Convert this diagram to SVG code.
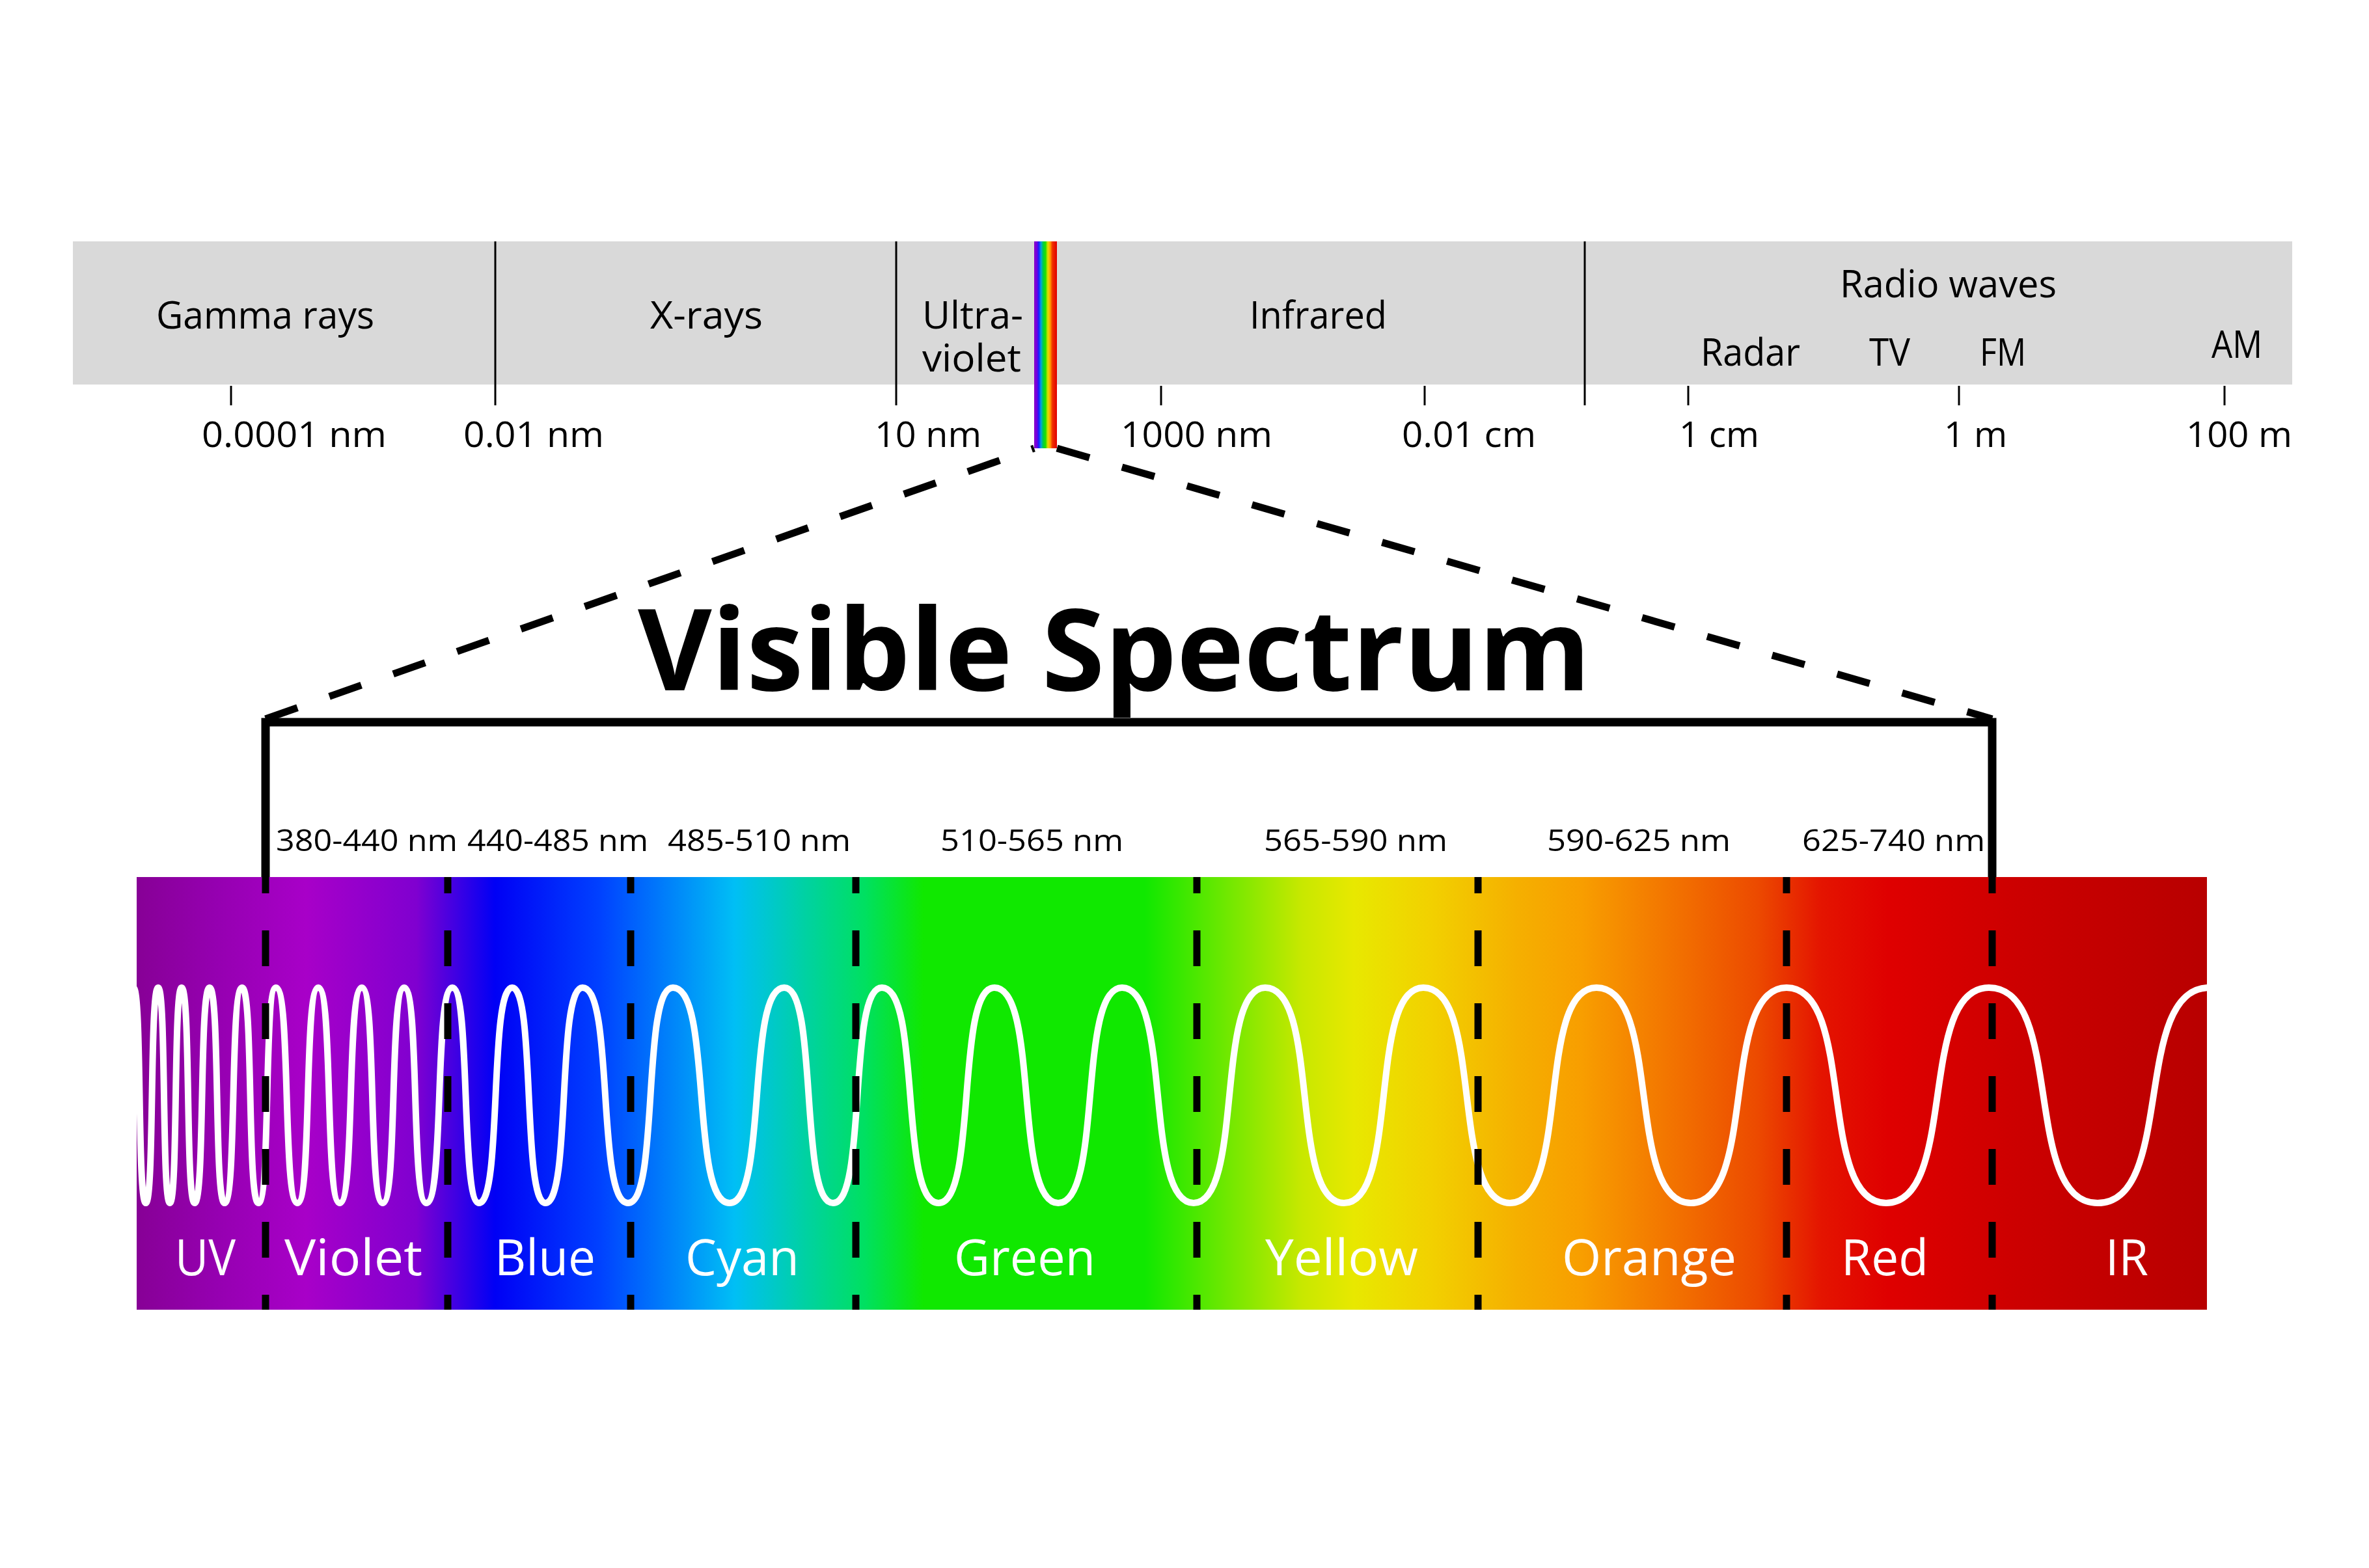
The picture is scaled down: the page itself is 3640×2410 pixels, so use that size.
<svg xmlns="http://www.w3.org/2000/svg" width="3640" height="2410" viewBox="0 0 3640 2410">
<style>
.lbl{font-family:"Open Sans","Noto Sans","Liberation Sans",sans-serif;fill:#000;}
.top{font-size:58px;}
.tick{font-size:55px;}
.rng{font-size:46px;}
.col{font-size:77px;fill:#fff;}
.title{font-size:174px;font-weight:bold;}
.thin{stroke:#000;stroke-width:3;fill:none;}
.vdash{stroke:#000;stroke-width:11;stroke-dasharray:55 57;stroke-dashoffset:30;fill:none;}
.ddash{stroke:#000;stroke-width:11;stroke-dasharray:52 52;fill:none;}
</style>
<defs>
<linearGradient id="spec" gradientUnits="userSpaceOnUse" x1="210" y1="0" x2="3391" y2="0">
<stop offset="0" stop-color="#870096"/>
<stop offset="0.0377" stop-color="#9500b0"/>
<stop offset="0.0817" stop-color="#a800c8"/>
<stop offset="0.135" stop-color="#8000d0"/>
<stop offset="0.173" stop-color="#0000f5"/>
<stop offset="0.223" stop-color="#0040ff"/>
<stop offset="0.289" stop-color="#00bff5"/>
<stop offset="0.324" stop-color="#00d2a0"/>
<stop offset="0.352" stop-color="#00e060"/>
<stop offset="0.380" stop-color="#10e800"/>
<stop offset="0.487" stop-color="#10e800"/>
<stop offset="0.525" stop-color="#6ce800"/>
<stop offset="0.563" stop-color="#c8e800"/>
<stop offset="0.588" stop-color="#e8e800"/>
<stop offset="0.626" stop-color="#f2d000"/>
<stop offset="0.666" stop-color="#f5b000"/>
<stop offset="0.698" stop-color="#f89e00"/>
<stop offset="0.745" stop-color="#f27000"/>
<stop offset="0.783" stop-color="#ec4a00"/>
<stop offset="0.814" stop-color="#e41400"/>
<stop offset="0.846" stop-color="#df0000"/>
<stop offset="0.909" stop-color="#cc0000"/>
<stop offset="1" stop-color="#b80000"/>
</linearGradient>
<linearGradient id="stripe" gradientUnits="userSpaceOnUse" x1="1589" y1="0" x2="1624" y2="0">
<stop offset="0" stop-color="#8a00c8"/>
<stop offset="0.12" stop-color="#7000e0"/>
<stop offset="0.2" stop-color="#1a1aff"/>
<stop offset="0.3" stop-color="#00a0e0"/>
<stop offset="0.4" stop-color="#00d040"/>
<stop offset="0.5" stop-color="#20e000"/>
<stop offset="0.6" stop-color="#e0e000"/>
<stop offset="0.7" stop-color="#ffa000"/>
<stop offset="0.8" stop-color="#f03000"/>
<stop offset="1" stop-color="#e00000"/>
</linearGradient>
<clipPath id="specclip"><rect x="210" y="1348" width="3181" height="665"/></clipPath>
</defs>
<rect x="0" y="0" width="3640" height="2410" fill="#fff"/>

<g id="em-bar">
<rect x="112" y="371" width="3410" height="220" fill="#d9d9d9"/>
<line class="thin" x1="761" y1="371" x2="761" y2="623"/>
<line class="thin" x1="1377" y1="371" x2="1377" y2="623"/>
<line class="thin" x1="2435" y1="371" x2="2435" y2="623"/>
<rect x="1589" y="371" width="35" height="318" fill="url(#stripe)"/>
</g>

<g id="band-labels" class="lbl top">
<text x="240" y="505" textLength="335" lengthAdjust="spacingAndGlyphs">Gamma rays</text>
<text x="999" y="505" textLength="173" lengthAdjust="spacingAndGlyphs">X-rays</text>
<text x="1417" y="505" textLength="155" lengthAdjust="spacingAndGlyphs">Ultra-</text>
<text x="1417" y="571" textLength="152" lengthAdjust="spacingAndGlyphs">violet</text>
<text x="1920" y="505" textLength="211" lengthAdjust="spacingAndGlyphs">Infrared</text>
<text x="2827" y="457" textLength="333" lengthAdjust="spacingAndGlyphs">Radio waves</text>
<text x="2613" y="562" textLength="153" lengthAdjust="spacingAndGlyphs">Radar</text>
<text x="2872" y="562" textLength="63" lengthAdjust="spacingAndGlyphs">TV</text>
<text x="3042" y="562" textLength="71" lengthAdjust="spacingAndGlyphs">FM</text>
<text x="3398" y="550" textLength="78" lengthAdjust="spacingAndGlyphs">AM</text>
</g>

<g id="ticks">
<line class="thin" x1="355" y1="593" x2="355" y2="623"/>
<line class="thin" x1="1784" y1="593" x2="1784" y2="623"/>
<line class="thin" x1="2189" y1="593" x2="2189" y2="623"/>
<line class="thin" x1="2594" y1="593" x2="2594" y2="623"/>
<line class="thin" x1="3010" y1="593" x2="3010" y2="623"/>
<line class="thin" x1="3418" y1="593" x2="3418" y2="623"/>
</g>

<g id="tick-labels" class="lbl tick">
<text x="310" y="687" textLength="284" lengthAdjust="spacingAndGlyphs">0.0001 nm</text>
<text x="712" y="687" textLength="216" lengthAdjust="spacingAndGlyphs">0.01 nm</text>
<text x="1344" y="687" textLength="164" lengthAdjust="spacingAndGlyphs">10 nm</text>
<text x="1722" y="687" textLength="233" lengthAdjust="spacingAndGlyphs">1000 nm</text>
<text x="2154" y="687" textLength="206" lengthAdjust="spacingAndGlyphs">0.01 cm</text>
<text x="2580" y="687" textLength="123" lengthAdjust="spacingAndGlyphs">1 cm</text>
<text x="2987" y="687" textLength="97" lengthAdjust="spacingAndGlyphs">1 m</text>
<text x="3359" y="687" textLength="163" lengthAdjust="spacingAndGlyphs">100 m</text>
</g>

<g id="connectors">
<line class="ddash" x1="408" y1="1105" x2="1589" y2="689"/>
<line class="ddash" x1="1624" y1="689" x2="3061" y2="1105"/>
<path d="M408,1348 V1110 H3061 V1348" fill="none" stroke="#000" stroke-width="13"/>
</g>

<g id="title">
<text class="lbl title" x="980" y="1061" textLength="1464" lengthAdjust="spacingAndGlyphs">Visible Spectrum</text>
</g>

<g id="range-labels" class="lbl rng">
<text x="424" y="1308" textLength="279" lengthAdjust="spacingAndGlyphs">380-440 nm</text>
<text x="718" y="1308" textLength="278" lengthAdjust="spacingAndGlyphs">440-485 nm</text>
<text x="1026" y="1308" textLength="281" lengthAdjust="spacingAndGlyphs">485-510 nm</text>
<text x="1445" y="1308" textLength="281" lengthAdjust="spacingAndGlyphs">510-565 nm</text>
<text x="1942" y="1308" textLength="282" lengthAdjust="spacingAndGlyphs">565-590 nm</text>
<text x="2377" y="1308" textLength="282" lengthAdjust="spacingAndGlyphs">590-625 nm</text>
<text x="2769" y="1308" textLength="281" lengthAdjust="spacingAndGlyphs">625-740 nm</text>
</g>

<g id="spectrum">
<rect x="210" y="1348" width="3181" height="665" fill="url(#spec)"/>
<path clip-path="url(#specclip)" fill="none" stroke="#fff" stroke-width="10" d="M205,1518 C218.3,1518 210.7,1849 224,1849 C237.3,1849 229.7,1518 243,1518 C255.6,1518 248.4,1849 261,1849 C273.6,1849 266.4,1518 279,1518 C293,1518 285,1849 299,1849 C315.1,1849 305.9,1518 322,1518 C338.1,1518 328.9,1849 345,1849 C363.9,1849 353.1,1518 372,1518 C389.5,1518 379.5,1849 397,1849 C415.9,1849 405.1,1518 424,1518 C447.1,1518 433.9,1849 457,1849 C479.4,1849 466.6,1518 489,1518 C512.1,1518 498.9,1849 522,1849 C545.8,1849 532.2,1518 556,1518 C578.4,1518 565.6,1849 588,1849 C611.1,1849 597.9,1518 621,1518 C644.8,1518 631.2,1849 655,1849 C683,1849 667,1518 695,1518 C723.7,1518 707.3,1849 736,1849 C771.7,1849 751.3,1518 787,1518 C822.7,1518 802.3,1849 838,1849 C877.9,1849 855.1,1518 895,1518 C944,1518 916,1849 965,1849 C1013.3,1849 985.7,1518 1034,1518 C1094.9,1518 1060.1,1849 1121,1849 C1179.8,1849 1146.2,1518 1205,1518 C1257.5,1518 1227.5,1849 1280,1849 C1332.5,1849 1302.5,1518 1355,1518 C1415.9,1518 1381.1,1849 1442,1849 C1502.2,1849 1467.8,1518 1528,1518 C1596.6,1518 1557.4,1849 1626,1849 C1694.6,1849 1655.4,1518 1724,1518 C1801,1518 1757,1849 1834,1849 C1911,1849 1867,1518 1944,1518 C2028.7,1518 1980.3,1849 2065,1849 C2150.4,1849 2101.6,1518 2187,1518 C2280.1,1518 2226.9,1849 2320,1849 C2413.1,1849 2359.9,1518 2453,1518 C2554.5,1518 2496.5,1849 2598,1849 C2700.9,1849 2642.1,1518 2745,1518 C2852.1,1518 2790.9,1849 2898,1849 C3008.6,1849 2945.4,1518 3056,1518 C3172.9,1518 3106.1,1849 3223,1849 C3343.4,1849 3274.6,1518 3395,1518"/>
<line class="vdash" x1="408" y1="1348" x2="408" y2="2013"/>
<line class="vdash" x1="688" y1="1348" x2="688" y2="2013"/>
<line class="vdash" x1="969" y1="1348" x2="969" y2="2013"/>
<line class="vdash" x1="1315" y1="1348" x2="1315" y2="2013"/>
<line class="vdash" x1="1839" y1="1348" x2="1839" y2="2013"/>
<line class="vdash" x1="2271" y1="1348" x2="2271" y2="2013"/>
<line class="vdash" x1="2745" y1="1348" x2="2745" y2="2013"/>
<line class="vdash" x1="3061" y1="1348" x2="3061" y2="2013"/>
</g>

<g id="color-labels" class="lbl col">
<text x="269" y="1960" textLength="93" lengthAdjust="spacingAndGlyphs">UV</text>
<text x="437" y="1960" textLength="212" lengthAdjust="spacingAndGlyphs">Violet</text>
<text x="760" y="1960" textLength="155" lengthAdjust="spacingAndGlyphs">Blue</text>
<text x="1053" y="1960" textLength="175" lengthAdjust="spacingAndGlyphs">Cyan</text>
<text x="1466" y="1960" textLength="217" lengthAdjust="spacingAndGlyphs">Green</text>
<text x="1944" y="1960" textLength="235" lengthAdjust="spacingAndGlyphs">Yellow</text>
<text x="2400" y="1960" textLength="268" lengthAdjust="spacingAndGlyphs">Orange</text>
<text x="2829" y="1960" textLength="134" lengthAdjust="spacingAndGlyphs">Red</text>
<text x="3235" y="1960" textLength="66" lengthAdjust="spacingAndGlyphs">IR</text>
</g>
</svg>
